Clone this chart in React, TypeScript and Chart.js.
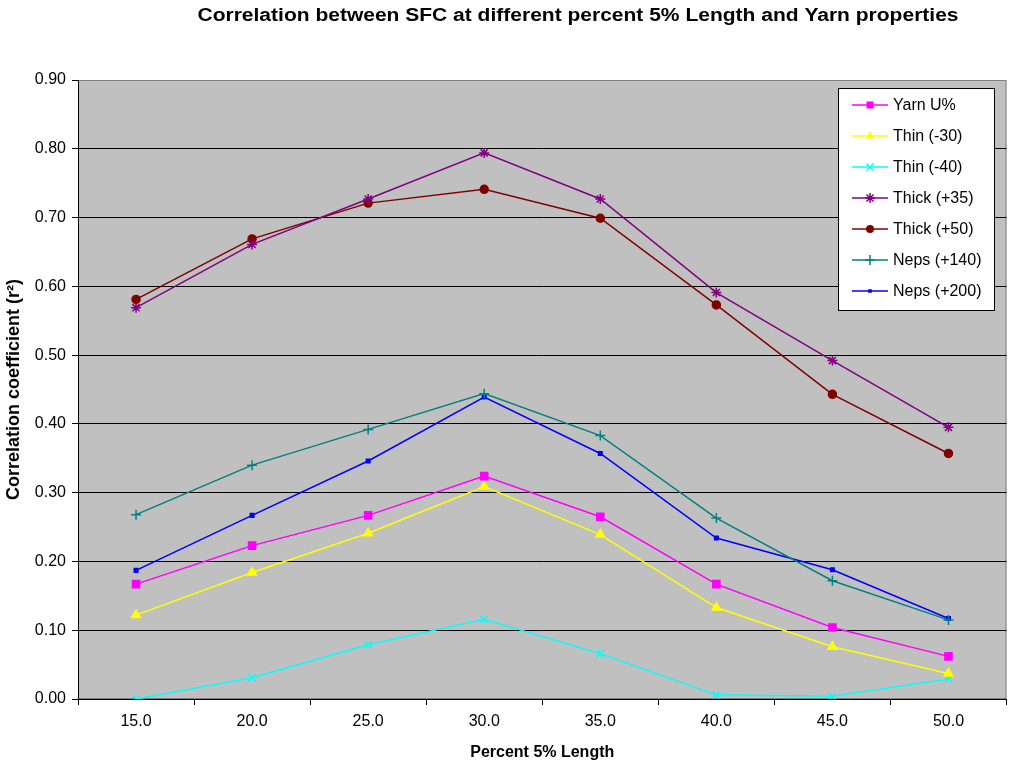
import React, { useEffect, useRef } from "react";
import { Chart, registerables } from "chart.js";

Chart.register(...registerables);

const chartTitle = "Correlation between SFC at different percent 5% Length and Yarn properties";
const xTitle = "Percent 5% Length";
const yTitle = "Correlation coefficient (r\u00B2)";

const categories = ["15.0", "20.0", "25.0", "30.0", "35.0", "40.0", "45.0", "50.0"];
const yTicks = [0, 0.1, 0.2, 0.3, 0.4, 0.5, 0.6, 0.7, 0.8, 0.9];

const seriesNames = ["Yarn U%", "Thin (-30)", "Thin (-40)", "Thick (+35)", "Thick (+50)", "Neps (+140)", "Neps (+200)"];
const yarnU = [0.167, 0.223, 0.267, 0.324, 0.265, 0.167, 0.104, 0.062];
const thin30 = [0.122, 0.184, 0.241, 0.309, 0.239, 0.133, 0.076, 0.037];
const thin40 = [0.0, 0.031, 0.079, 0.116, 0.066, 0.006, 0.004, 0.029];
const thick35 = [0.569, 0.661, 0.727, 0.794, 0.727, 0.591, 0.492, 0.395];
const thick50 = [0.581, 0.669, 0.721, 0.741, 0.699, 0.573, 0.443, 0.357];
const neps140 = [0.268, 0.340, 0.392, 0.444, 0.383, 0.263, 0.172, 0.115];
const neps200 = [0.187, 0.267, 0.346, 0.439, 0.357, 0.234, 0.188, 0.117];

const seriesData = [yarnU, thin30, thin40, thick35, thick50, neps140, neps200];
const seriesColors = ["#FF00FF", "#FFFF00", "#00FFFF", "#800080", "#800000", "#008080", "#0000FF"];
const seriesPoints = ["rect", "triangle", "crossRot", "star", "circle", "cross", "rect"];
const seriesRadius = [5, 5, 5, 5, 4, 5, 2.5];

const FONT = "Arial, 'Liberation Sans', sans-serif";
const CANVAS_W = 1013;
const CANVAS_H = 762;

function drawMarker(ctx: CanvasRenderingContext2D, style: string, r: number, x: number, y: number, color: string) {
  ctx.save();
  ctx.fillStyle = color;
  ctx.strokeStyle = color;
  ctx.lineWidth = 1.5;
  ctx.beginPath();
  if (style === "rect") {
    const s = r * Math.SQRT1_2;
    ctx.rect(x - s, y - s, 2 * s, 2 * s);
    ctx.fill();
  } else if (style === "circle") {
    ctx.arc(x, y, r, 0, Math.PI * 2);
    ctx.fill();
  } else if (style === "triangle") {
    ctx.moveTo(x, y - r);
    ctx.lineTo(x + r * 0.866, y + r * 0.5);
    ctx.lineTo(x - r * 0.866, y + r * 0.5);
    ctx.closePath();
    ctx.fill();
  } else if (style === "crossRot") {
    const s = r * Math.SQRT1_2;
    ctx.moveTo(x - s, y - s); ctx.lineTo(x + s, y + s);
    ctx.moveTo(x - s, y + s); ctx.lineTo(x + s, y - s);
    ctx.stroke();
  } else if (style === "cross") {
    ctx.moveTo(x - r, y); ctx.lineTo(x + r, y);
    ctx.moveTo(x, y - r); ctx.lineTo(x, y + r);
    ctx.stroke();
  } else if (style === "star") {
    const s = r * Math.SQRT1_2;
    ctx.moveTo(x - r, y); ctx.lineTo(x + r, y);
    ctx.moveTo(x, y - r); ctx.lineTo(x, y + r);
    ctx.moveTo(x - s, y - s); ctx.lineTo(x + s, y + s);
    ctx.moveTo(x - s, y + s); ctx.lineTo(x + s, y - s);
    ctx.stroke();
  }
  ctx.restore();
}

const decorPlugin = {
  id: "decor",
  beforeDraw(chart: any) {
    const { ctx, chartArea } = chart;
    ctx.save();
    ctx.fillStyle = "#FFFFFF";
    ctx.fillRect(0, 0, chart.width, chart.height);
    ctx.fillStyle = "#C0C0C0";
    ctx.fillRect(chartArea.left, chartArea.top, chartArea.right - chartArea.left, chartArea.bottom - chartArea.top);
    ctx.strokeStyle = "#808080";
    ctx.lineWidth = 1;
    ctx.strokeRect(chartArea.left + 0.5, chartArea.top + 0.5, chartArea.right - chartArea.left - 1, chartArea.bottom - chartArea.top - 1);
    ctx.restore();
  },
  afterDraw(chart: any) {
    const { ctx } = chart;
    ctx.save();
    // title, stretched to the reference width
    ctx.fillStyle = "#000";
    ctx.font = "bold 18px " + FONT;
    ctx.textAlign = "center";
    ctx.textBaseline = "middle";
    const w = ctx.measureText(chartTitle).width;
    const sx = 761 / w;
    ctx.save();
    ctx.translate(578, 16);
    ctx.scale(sx, 1);
    ctx.fillText(chartTitle, 0, 0);
    ctx.restore();
    // legend
    const lx = 838, ly = 88, lw = 156, lh = 222;
    ctx.fillStyle = "#FFFFFF";
    ctx.fillRect(lx, ly, lw, lh);
    ctx.strokeStyle = "#000";
    ctx.lineWidth = 1;
    ctx.strokeRect(lx + 0.5, ly + 0.5, lw, lh);
    ctx.font = "16px " + FONT;
    ctx.textAlign = "left";
    ctx.textBaseline = "middle";
    chart.data.datasets.forEach((ds: any, i: number) => {
      const y = 105 + i * 31;
      ctx.strokeStyle = ds.borderColor;
      ctx.lineWidth = 1.5;
      ctx.beginPath();
      ctx.moveTo(852, y);
      ctx.lineTo(888, y);
      ctx.stroke();
      drawMarker(ctx, ds.pointStyle, ds.pointRadius, 870, y, ds.borderColor);
      ctx.fillStyle = "#000";
      ctx.fillText(ds.label, 893, y + 1);
    });
    ctx.restore();
  },
};

export default function App() {
  const ref = useRef<HTMLCanvasElement | null>(null);
  useEffect(() => {
    document.body.style.margin = "0";
    const canvas = ref.current!;
    const chart = new Chart(canvas, {
      type: "line",
      data: {
        labels: categories,
        datasets: seriesNames.map((name, i) => ({
          label: name,
          data: seriesData[i],
          borderColor: seriesColors[i],
          backgroundColor: seriesColors[i],
          pointStyle: seriesPoints[i] as any,
          pointRadius: seriesRadius[i],
          pointBorderWidth: 1.5,
          borderWidth: 1.5,
          tension: 0,
          fill: false,
        })),
      },
      options: {
        responsive: false,
        animation: false,
        layout: { padding: { top: 80, right: 0, left: 0, bottom: 0 } },
        plugins: {
          legend: { display: false },
          title: { display: false },
          tooltip: { enabled: false },
        },
        scales: {
          x: {
            type: "category",
            offset: true,
            grid: { offset: true, drawOnChartArea: false, drawTicks: true, tickLength: 6, color: "#000" },
            border: { color: "#000", width: 1 },
            ticks: { color: "#000", font: { family: FONT, size: 16 }, padding: 7, maxRotation: 0 },
            title: { display: true, text: xTitle, color: "#000", font: { family: FONT, size: 16, weight: "bold" }, padding: { top: 4, bottom: 0 } },
            afterFit: (s: any) => { s.height = 63; },
          },
          y: {
            min: 0,
            max: 0.9,
            afterBuildTicks: (s: any) => { s.ticks = yTicks.map((v) => ({ value: v })); },
            grid: {
              color: (c: any) => (c.tick && c.tick.value >= 0.9 ? "#808080" : "#000"),
              tickColor: "#000",
              tickLength: 6,
              lineWidth: 1,
            },
            border: { color: "#000", width: 1 },
            ticks: { color: "#000", font: { family: FONT, size: 16 }, padding: 6, callback: (v: any) => Number(v).toFixed(2) },
            title: { display: true, text: yTitle, color: "#000", font: { family: FONT, size: 18, weight: "bold" }, padding: { top: 3, bottom: 4 } },
            afterFit: (s: any) => { s.width = 78; },
          },
        },
      },
      plugins: [decorPlugin],
    });
    return () => chart.destroy();
  }, []);
  return (
    <div style={{ position: "absolute", left: 0, top: 0, width: 1009, height: 762, overflow: "hidden" }}>
      <canvas ref={ref} width={CANVAS_W} height={CANVAS_H} style={{ width: CANVAS_W, height: CANVAS_H, display: "block" }} />
    </div>
  );
}
